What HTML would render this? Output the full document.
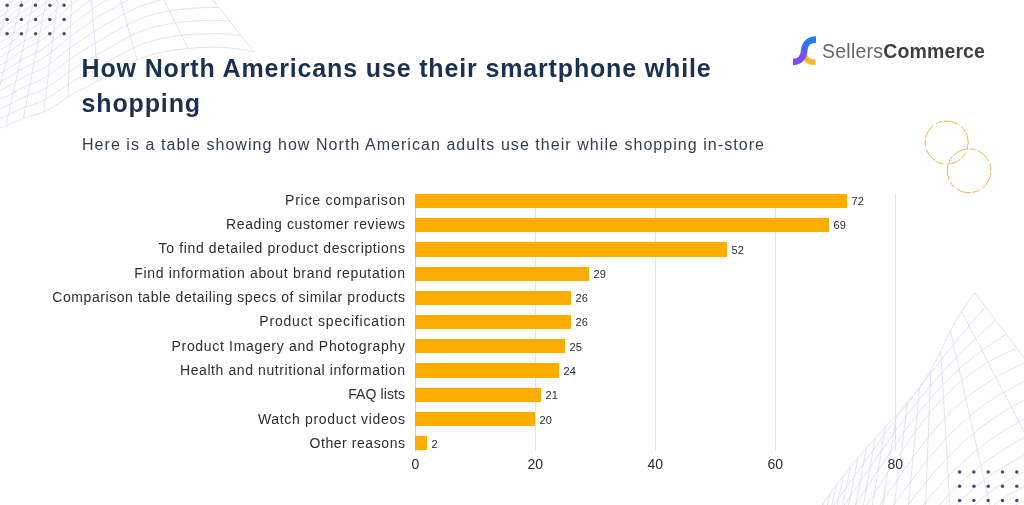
<!DOCTYPE html>
<html><head><meta charset="utf-8"><style>
html,body{margin:0;padding:0;background:#fff}
body{width:1024px;height:505px;position:relative;overflow:hidden;font-family:"Liberation Sans",sans-serif}
#wrap{position:absolute;left:0;top:0;width:1024px;height:505px;will-change:transform}
svg.bg{position:absolute;left:0;top:0}
.title{position:absolute;left:81.6px;top:51.2px;font-weight:bold;font-size:25px;line-height:35px;color:#1a3150;letter-spacing:0.85px;white-space:nowrap}
.sub{position:absolute;left:82px;top:134.5px;font-size:16px;line-height:20px;color:#2f3f52;letter-spacing:1.05px;white-space:nowrap}
.logo{position:absolute;left:822px;top:39.8px;font-size:19.5px;line-height:22px;white-space:nowrap}
.logo .a{color:#666;letter-spacing:0.25px} .logo .b{color:#404040;font-weight:bold;letter-spacing:0.1px}
.gl{position:absolute;top:194px;height:257px;width:1px;background:#e2e2e6}
.ax{position:absolute;top:456.4px;width:60px;text-align:center;font-size:14px;line-height:16px;color:#2d2d2d}
.bar{position:absolute;left:415.3px;height:14.2px;background:#fdac00}
.val{position:absolute;font-size:11px;line-height:14px;color:#2a2a2a;white-space:nowrap}
.lab{position:absolute;right:619px;font-size:14px;line-height:16px;color:#2d2d2d;white-space:nowrap;text-align:right}
</style></head><body><div id="wrap">
<svg class="bg" width="1024" height="505" viewBox="0 0 1024 505">
<g fill="none" stroke="#d9d9ef" stroke-width="0.8"><path d="M-60.0,150.0 -57.4,149.1 -54.7,148.2 -52.1,147.3 -49.4,146.4 -46.8,145.4 -44.2,144.4 -41.5,143.4 -38.9,142.4 -36.3,141.4 -33.6,140.4 -31.0,139.4 -28.3,138.4 -25.7,137.3 -23.1,136.3 -20.4,135.3 -17.8,134.3 -15.1,133.3 -12.5,132.3 -9.9,131.4 -7.2,130.4 -4.6,129.5 -1.9,128.6 0.7,127.8 3.3,126.9 6.0,126.0 8.6,125.0 11.2,123.8 13.9,122.7 16.5,121.4 19.2,120.3 21.8,119.2 24.4,118.2 27.1,117.3 29.7,116.5 32.4,115.8 35.0,115.0 37.6,114.2 40.3,113.3 42.9,112.3 45.5,111.1 48.2,109.7 50.8,108.2 53.5,106.6 56.1,104.9 58.7,103.1 61.4,101.3 64.0,99.6 66.7,97.9 69.3,96.2 71.9,94.6 74.6,93.1 77.2,91.7 79.8,90.3 82.5,88.9 85.1,87.6 87.8,86.2 90.4,84.9 93.0,83.6 95.7,82.2 98.3,80.8 101.0,79.4 103.6,77.9 106.2,76.5 108.9,75.0 111.5,73.4 114.2,71.9 116.8,70.4 119.4,68.9 122.1,67.5 124.7,66.0 127.3,64.6 130.0,63.3 132.6,62.0 135.3,60.8 137.9,59.6 140.5,58.5 143.2,57.5 145.8,56.6 148.5,55.7 151.1,54.9 153.7,54.1 156.4,53.4 159.0,52.8 161.6,52.2 164.3,51.7 166.9,51.2 169.6,50.7 172.2,50.3 174.8,49.9 177.5,49.6 180.1,49.3 182.8,49.0 185.4,48.7 188.0,48.5 190.7,48.3 193.3,48.1 195.9,47.9 198.6,47.7 201.2,47.6 203.9,47.5 206.5,47.4 209.1,47.3 211.8,47.3 214.4,47.3 217.1,47.3 219.7,47.4 222.3,47.5 225.0,47.7 227.6,47.8 230.3,48.0 232.9,48.3 235.5,48.6 238.2,48.9 240.8,49.3 243.4,49.8 246.1,50.3 248.7,50.8 251.4,51.4 254.0,52.0M-60.0,142.4 -57.4,141.5 -54.7,140.5 -52.1,139.5 -49.4,138.4 -46.8,137.4 -44.2,136.3 -41.5,135.2 -38.9,134.1 -36.3,133.0 -33.6,131.8 -31.0,130.7 -28.3,129.6 -25.7,128.5 -23.1,127.3 -20.4,126.2 -17.8,125.1 -15.1,124.0 -12.5,122.9 -9.9,121.9 -7.2,120.8 -4.6,119.8 -1.9,118.8 0.7,117.9 3.3,116.9 6.0,115.9 8.6,114.8 11.2,113.5 13.9,112.3 16.5,111.0 19.2,109.7 21.8,108.5 24.4,107.4 27.1,106.4 29.7,105.5 32.4,104.7 35.0,103.8 37.6,102.9 40.3,101.9 42.9,100.8 45.5,99.5 48.2,98.0 50.8,96.4 53.5,94.7 56.1,92.8 58.7,91.0 61.4,89.1 64.0,87.3 66.7,85.4 69.3,83.7 71.9,82.0 74.6,80.4 77.2,78.8 79.8,77.3 82.5,75.9 85.1,74.4 87.8,73.0 90.4,71.6 93.0,70.1 95.7,68.7 98.3,67.2 101.0,65.7 103.6,64.2 106.2,62.8 108.9,61.3 111.5,59.7 114.2,58.2 116.8,56.7 119.4,55.2 122.1,53.8 124.7,52.3 127.3,50.9 130.0,49.6 132.6,48.3 135.3,47.1 137.9,45.9 140.5,44.8 143.2,43.8 145.8,42.9 148.5,42.0 151.1,41.2 153.7,40.4 156.4,39.7 159.0,39.1 161.6,38.5 164.3,38.0 166.9,37.5 169.6,37.0 172.2,36.6 174.8,36.2 177.5,35.9 180.1,35.6 182.8,35.3 185.4,35.0 188.0,34.8 190.7,34.6 193.3,34.4 195.9,34.2 198.6,34.0 201.2,33.9 203.9,33.8 206.5,33.7 209.1,33.6 211.8,33.6 214.4,33.6 217.1,33.6 219.7,33.7 222.3,33.8 225.0,34.0 227.6,34.1 230.3,34.3 232.9,34.6 235.5,34.9 238.2,35.2 240.8,35.6 241.1,35.7M-60.0,135.1 -57.4,134.0 -54.7,133.0 -52.1,131.8 -49.4,130.7 -46.8,129.5 -44.2,128.4 -41.5,127.2 -38.9,126.0 -36.3,124.7 -33.6,123.5 -31.0,122.3 -28.3,121.1 -25.7,119.8 -23.1,118.6 -20.4,117.4 -17.8,116.2 -15.1,115.0 -12.5,113.8 -9.9,112.7 -7.2,111.6 -4.6,110.4 -1.9,109.4 0.7,108.3 3.3,107.3 6.0,106.1 8.6,104.9 11.2,103.6 13.9,102.2 16.5,100.8 19.2,99.4 21.8,98.1 24.4,96.9 27.1,95.9 29.7,94.9 32.4,93.9 35.0,93.0 37.6,92.0 40.3,90.9 42.9,89.6 45.5,88.2 48.2,86.6 50.8,84.9 53.5,83.1 56.1,81.2 58.7,79.2 61.4,77.3 64.0,75.3 66.7,73.4 69.3,71.5 71.9,69.8 74.6,68.1 77.2,66.4 79.8,64.8 82.5,63.3 85.1,61.7 87.8,60.2 90.4,58.7 93.0,57.1 95.7,55.6 98.3,54.0 101.0,52.4 103.6,51.0 106.2,49.5 108.9,48.0 111.5,46.5 114.2,45.0 116.8,43.4 119.4,42.0 122.1,40.5 124.7,39.1 127.3,37.7 130.0,36.3 132.6,35.0 135.3,33.8 137.9,32.6 140.5,31.6 143.2,30.5 145.8,29.6 148.5,28.7 151.1,27.9 153.7,27.2 156.4,26.5 159.0,25.8 161.6,25.2 164.3,24.7 166.9,24.2 169.6,23.8 172.2,23.3 174.8,23.0 177.5,22.6 180.1,22.3 182.8,22.0 185.4,21.8 188.0,21.5 190.7,21.3 193.3,21.1 195.9,20.9 198.6,20.7 201.2,20.6 203.9,20.5 206.5,20.4 209.1,20.4 211.8,20.3 214.4,20.3 217.1,20.4 219.7,20.4 222.3,20.5 225.0,20.7 227.6,20.9 229.6,21.0M-60.0,128.0 -57.4,126.8 -54.7,125.7 -52.1,124.4 -49.4,123.2 -46.8,122.0 -44.2,120.7 -41.5,119.4 -38.9,118.1 -36.3,116.8 -33.6,115.5 -31.0,114.1 -28.3,112.8 -25.7,111.5 -23.1,110.2 -20.4,108.9 -17.8,107.6 -15.1,106.3 -12.5,105.0 -9.9,103.8 -7.2,102.6 -4.6,101.3 -1.9,100.2 0.7,99.0 3.3,97.9 6.0,96.7 8.6,95.3 11.2,93.9 13.9,92.4 16.5,90.9 19.2,89.5 21.8,88.1 24.4,86.8 27.1,85.6 29.7,84.5 32.4,83.5 35.0,82.5 37.6,81.4 40.3,80.2 42.9,78.8 45.5,77.3 48.2,75.7 50.8,73.8 53.5,71.9 56.1,69.9 58.7,67.9 61.4,65.8 64.0,63.7 66.7,61.7 69.3,59.8 71.9,57.9 74.6,56.1 77.2,54.4 79.8,52.7 82.5,51.0 85.1,49.4 87.8,47.8 90.4,46.1 93.0,44.5 95.7,42.9 98.3,41.2 101.0,39.6 103.6,38.1 106.2,36.6 108.9,35.1 111.5,33.6 114.2,32.1 116.8,30.6 119.4,29.1 122.1,27.6 124.7,26.2 127.3,24.8 130.0,23.5 132.6,22.2 135.3,20.9 137.9,19.8 140.5,18.7 143.2,17.7 145.8,16.7 148.5,15.9 151.1,15.1 153.7,14.3 156.4,13.6 159.0,13.0 161.6,12.4 164.3,11.8 166.9,11.3 169.6,10.9 172.2,10.5 174.8,10.1 177.5,9.8 180.1,9.4 182.8,9.2 185.4,8.9 188.0,8.7 190.7,8.4 193.3,8.2 195.9,8.0 198.6,7.9 201.2,7.7 203.9,7.6 206.5,7.6 209.1,7.5 211.8,7.5 214.4,7.5 217.1,7.5 219.0,7.5M-60.0,121.1 -57.4,119.9 -54.7,118.6 -52.1,117.3 -49.4,116.0 -46.8,114.6 -44.2,113.3 -41.5,111.9 -38.9,110.5 -36.3,109.1 -33.6,107.7 -31.0,106.3 -28.3,104.9 -25.7,103.4 -23.1,102.0 -20.4,100.6 -17.8,99.3 -15.1,97.9 -12.5,96.5 -9.9,95.2 -7.2,93.9 -4.6,92.6 -1.9,91.3 0.7,90.0 3.3,88.8 6.0,87.5 8.6,86.1 11.2,84.6 13.9,83.0 16.5,81.4 19.2,79.8 21.8,78.3 24.4,77.0 27.1,75.7 29.7,74.6 32.4,73.4 35.0,72.3 37.6,71.1 40.3,69.8 42.9,68.4 45.5,66.8 48.2,65.0 50.8,63.1 53.5,61.1 56.1,59.0 58.7,56.9 61.4,54.7 64.0,52.6 66.7,50.5 69.3,48.4 71.9,46.5 74.6,44.6 77.2,42.7 79.8,40.9 82.5,39.2 85.1,37.5 87.8,35.8 90.4,34.0 93.0,32.3 95.7,30.6 98.3,28.8 101.0,27.1 103.6,25.7 106.2,24.2 108.9,22.7 111.5,21.2 114.2,19.7 116.8,18.1 119.4,16.7 122.1,15.2 124.7,13.8 127.3,12.4 130.0,11.0 132.6,9.7 135.3,8.5 137.9,7.3 140.5,6.3 143.2,5.2 145.8,4.3 148.5,3.4 151.1,2.6 153.7,1.9 156.4,1.2 159.0,0.5 161.6,-0.1 164.3,-0.6 166.9,-1.1 169.6,-1.5 172.2,-2.0 174.8,-2.3 177.5,-2.7 180.1,-3.0 182.8,-3.3 185.4,-3.5 188.0,-3.8 190.7,-4.0 193.3,-4.2 195.9,-4.4 198.6,-4.6 201.2,-4.7 203.9,-4.8 206.5,-4.9 209.1,-4.9M-60.0,114.5 -57.4,113.2 -54.7,111.8 -52.1,110.4 -49.4,109.0 -46.8,107.6 -44.2,106.1 -41.5,104.6 -38.9,103.1 -36.3,101.7 -33.6,100.2 -31.0,98.7 -28.3,97.2 -25.7,95.7 -23.1,94.2 -20.4,92.7 -17.8,91.2 -15.1,89.7 -12.5,88.3 -9.9,86.9 -7.2,85.4 -4.6,84.1 -1.9,82.7 0.7,81.4 3.3,80.0 6.0,78.6 8.6,77.1 11.2,75.5 13.9,73.9 16.5,72.2 19.2,70.5 21.8,69.0 24.4,67.5 27.1,66.2 29.7,64.9 32.4,63.7 35.0,62.4 37.6,61.2 40.3,59.8 42.9,58.3 45.5,56.6 48.2,54.7 50.8,52.7 53.5,50.6 56.1,48.5 58.7,46.2 61.4,44.0 64.0,41.8 66.7,39.6 69.3,37.4 71.9,35.4 74.6,33.4 77.2,31.5 79.8,29.6 82.5,27.8 85.1,25.9 87.8,24.1 90.4,22.3 93.0,20.5 95.7,18.7 98.3,16.8 101.0,15.1 103.6,13.6 106.2,12.2 108.9,10.7 111.5,9.1 114.2,7.6 116.8,6.1 119.4,4.6 122.1,3.2 124.7,1.7 127.3,0.3 130.0,-1.0 132.6,-2.3 135.3,-3.5 137.9,-4.7 140.5,-5.8 143.2,-6.8 145.8,-7.7 148.5,-8.6 151.1,-9.4 153.7,-10.2 156.4,-10.9 159.0,-11.5 161.6,-12.1 164.3,-12.6 166.9,-13.1 169.6,-13.6 172.2,-14.0 174.8,-14.4 177.5,-14.7 180.1,-15.0 182.8,-15.3 185.4,-15.6 188.0,-15.8 190.7,-16.0 193.3,-16.2 195.9,-16.4 198.6,-16.6 199.9,-16.6M-60.0,108.1 -57.4,106.7 -54.7,105.2 -52.1,103.7 -49.4,102.2 -46.8,100.7 -44.2,99.2 -41.5,97.6 -38.9,96.1 -36.3,94.5 -33.6,92.9 -31.0,91.3 -28.3,89.7 -25.7,88.1 -23.1,86.6 -20.4,85.0 -17.8,83.4 -15.1,81.9 -12.5,80.3 -9.9,78.8 -7.2,77.3 -4.6,75.8 -1.9,74.4 0.7,73.0 3.3,71.6 6.0,70.1 8.6,68.5 11.2,66.8 13.9,65.1 16.5,63.3 19.2,61.6 21.8,59.9 24.4,58.4 27.1,56.9 29.7,55.6 32.4,54.3 35.0,53.0 37.6,51.6 40.3,50.1 42.9,48.5 45.5,46.8 48.2,44.8 50.8,42.7 53.5,40.6 56.1,38.3 58.7,36.0 61.4,33.6 64.0,31.3 66.7,29.0 69.3,26.8 71.9,24.7 74.6,22.6 77.2,20.6 79.8,18.7 82.5,16.7 85.1,14.8 87.8,12.9 90.4,11.1 93.0,9.2 95.7,7.2 98.3,5.3 101.0,3.5 103.6,2.0 106.2,0.6 108.9,-0.9 111.5,-2.5 114.2,-4.0 116.8,-5.5 119.4,-7.0 122.1,-8.4 124.7,-9.9 127.3,-11.3 130.0,-12.6 132.6,-13.9 135.3,-15.1 137.9,-16.3 140.5,-17.4 143.2,-18.4 145.8,-19.3 148.5,-20.2 151.1,-21.0 153.7,-21.8 156.4,-22.5 159.0,-23.1 161.6,-23.7 164.3,-24.2 166.9,-24.7 169.6,-25.2 172.2,-25.6 174.8,-26.0 177.5,-26.3 180.1,-26.6 182.8,-26.9 185.4,-27.2 188.0,-27.4 190.7,-27.6 191.2,-27.7M-60.0,101.9 -57.4,100.4 -54.7,98.9 -52.1,97.3 -49.4,95.7 -46.8,94.1 -44.2,92.5 -41.5,90.9 -38.9,89.2 -36.3,87.6 -33.6,85.9 -31.0,84.2 -28.3,82.6 -25.7,80.9 -23.1,79.2 -20.4,77.6 -17.8,75.9 -15.1,74.3 -12.5,72.7 -9.9,71.1 -7.2,69.5 -4.6,67.9 -1.9,66.4 0.7,64.9 3.3,63.4 6.0,61.9 8.6,60.2 11.2,58.4 13.9,56.6 16.5,54.7 19.2,52.9 21.8,51.2 24.4,49.5 27.1,48.0 29.7,46.6 32.4,45.2 35.0,43.8 37.6,42.4 40.3,40.8 42.9,39.1 45.5,37.3 48.2,35.3 50.8,33.1 53.5,30.8 56.1,28.5 58.7,26.1 61.4,23.7 64.0,21.3 66.7,18.9 69.3,16.6 71.9,14.4 74.6,12.2 77.2,10.2 79.8,8.1 82.5,6.1 85.1,4.1 87.8,2.1 90.4,0.2 93.0,-1.8 95.7,-3.8 98.3,-5.8 101.0,-7.7 103.6,-9.1 106.2,-10.6 108.9,-12.1 111.5,-13.6 114.2,-15.1 116.8,-16.7 119.4,-18.1 122.1,-19.6 124.7,-21.0 127.3,-22.4 130.0,-23.8 132.6,-25.1 135.3,-26.3 137.9,-27.5 140.5,-28.5 143.2,-29.6 145.8,-30.5 148.5,-31.4 151.1,-32.2 153.7,-32.9 156.4,-33.6 159.0,-34.3 161.6,-34.9 164.3,-35.4 166.9,-35.9 169.6,-36.3 172.2,-36.8 174.8,-37.1 177.5,-37.5 180.1,-37.8 182.8,-38.1 183.0,-38.1M-60.0,96.0 -57.4,94.4 -54.7,92.8 -52.1,91.1 -49.4,89.5 -46.8,87.8 -44.2,86.1 -41.5,84.4 -38.9,82.7 -36.3,80.9 -33.6,79.2 -31.0,77.4 -28.3,75.7 -25.7,73.9 -23.1,72.2 -20.4,70.4 -17.8,68.7 -15.1,67.0 -12.5,65.3 -9.9,63.6 -7.2,62.0 -4.6,60.3 -1.9,58.7 0.7,57.1 3.3,55.6 6.0,53.9 8.6,52.2 11.2,50.3 13.9,48.4 16.5,46.5 19.2,44.6 21.8,42.8 24.4,41.1 27.1,39.5 29.7,38.0 32.4,36.5 35.0,35.0 37.6,33.5 40.3,31.9 42.9,30.1 45.5,28.2 48.2,26.1 50.8,23.8 53.5,21.5 56.1,19.1 58.7,16.6 61.4,14.1 64.0,11.6 66.7,9.1 69.3,6.8 71.9,4.5 74.6,2.2 77.2,0.1 79.8,-2.0 82.5,-4.1 85.1,-6.2 87.8,-8.2 90.4,-10.3 93.0,-12.4 95.7,-14.4 98.3,-16.5 101.0,-18.4 103.6,-19.9 106.2,-21.4 108.9,-22.9 111.5,-24.4 114.2,-25.9 116.8,-27.4 119.4,-28.9 122.1,-30.4 124.7,-31.8 127.3,-33.2 130.0,-34.5 132.6,-35.8 135.3,-37.1 137.9,-38.2 140.5,-39.3 143.2,-40.3 145.8,-41.3 148.5,-42.1 151.1,-42.9 153.7,-43.7 156.4,-44.4 159.0,-45.0 161.6,-45.6 164.3,-46.2 166.9,-46.7 169.6,-47.1 172.2,-47.5 174.8,-47.9 175.2,-47.9M-60.0,90.3 -57.4,88.6 -54.7,86.9 -52.1,85.2 -49.4,83.5 -46.8,81.7 -44.2,79.9 -41.5,78.1 -38.9,76.3 -36.3,74.5 -33.6,72.7 -31.0,70.9 -28.3,69.0 -25.7,67.2 -23.1,65.4 -20.4,63.6 -17.8,61.8 -15.1,60.0 -12.5,58.2 -9.9,56.5 -7.2,54.7 -4.6,53.0 -1.9,51.3 0.7,49.7 3.3,48.0 6.0,46.3 8.6,44.5 11.2,42.5 13.9,40.6 16.5,38.6 19.2,36.6 21.8,34.7 24.4,32.9 27.1,31.2 29.7,29.7 32.4,28.1 35.0,26.6 37.6,24.9 40.3,23.2 42.9,21.4 45.5,19.4 48.2,17.2 50.8,14.9 53.5,12.5 56.1,10.0 58.7,7.4 61.4,4.9 64.0,2.3 66.7,-0.2 69.3,-2.7 71.9,-5.1 74.6,-7.4 77.2,-9.6 79.8,-11.8 82.5,-14.0 85.1,-16.1 87.8,-18.2 90.4,-20.4 93.0,-22.5 95.7,-24.7 98.3,-26.8 101.0,-28.8 103.6,-30.2 106.2,-31.7 108.9,-33.2 111.5,-34.7 114.2,-36.2 116.8,-37.8 119.4,-39.2 122.1,-40.7 124.7,-42.1 127.3,-43.5 130.0,-44.9 132.6,-46.2 135.3,-47.4 137.9,-48.6 140.5,-49.6 143.2,-50.7 145.8,-51.6 148.5,-52.5 151.1,-53.3 153.7,-54.0 156.4,-54.7 159.0,-55.4 161.6,-56.0 164.3,-56.5 166.9,-57.0 167.9,-57.2M-60.0,84.8 -57.4,83.1 -54.7,81.3 -52.1,79.5 -49.4,77.7 -46.8,75.9 -44.2,74.0 -41.5,72.1 -38.9,70.3 -36.3,68.4 -33.6,66.5 -31.0,64.6 -28.3,62.7 -25.7,60.8 -23.1,58.9 -20.4,57.0 -17.8,55.1 -15.1,53.3 -12.5,51.4 -9.9,49.6 -7.2,47.8 -4.6,46.0 -1.9,44.2 0.7,42.5 3.3,40.8 6.0,39.0 8.6,37.1 11.2,35.1 13.9,33.0 16.5,31.0 19.2,28.9 21.8,26.9 24.4,25.1 27.1,23.3 29.7,21.7 32.4,20.1 35.0,18.4 37.6,16.8 40.3,15.0 42.9,13.1 45.5,11.0 48.2,8.7 50.8,6.4 53.5,3.9 56.1,1.3 58.7,-1.3 61.4,-4.0 64.0,-6.6 66.7,-9.2 69.3,-11.7 71.9,-14.2 74.6,-16.6 77.2,-18.9 79.8,-21.2 82.5,-23.4 85.1,-25.6 87.8,-27.8 90.4,-30.0 93.0,-32.2 95.7,-34.5 98.3,-36.7 101.0,-38.7 103.6,-40.2 106.2,-41.6 108.9,-43.1 111.5,-44.7 114.2,-46.2 116.8,-47.7 119.4,-49.2 122.1,-50.6 124.7,-52.1 127.3,-53.5 130.0,-54.8 132.6,-56.1 135.3,-57.3 137.9,-58.5 140.5,-59.6 143.2,-60.6 145.8,-61.5 148.5,-62.4 151.1,-63.2 153.7,-64.0 156.4,-64.7 159.0,-65.3 161.1,-65.8M-60.0,79.6 -57.4,77.8 -54.7,75.9 -52.1,74.1 -49.4,72.2 -46.8,70.3 -44.2,68.3 -41.5,66.4 -38.9,64.5 -36.3,62.5 -33.6,60.5 -31.0,58.6 -28.3,56.6 -25.7,54.6 -23.1,52.7 -20.4,50.7 -17.8,48.8 -15.1,46.8 -12.5,44.9 -9.9,43.0 -7.2,41.1 -4.6,39.3 -1.9,37.5 0.7,35.7 3.3,33.9 6.0,32.0 8.6,30.0 11.2,28.0 13.9,25.8 16.5,23.7 19.2,21.6 21.8,19.5 24.4,17.6 27.1,15.8 29.7,14.1 32.4,12.4 35.0,10.7 37.6,8.9 40.3,7.1 42.9,5.1 45.5,2.9 48.2,0.6 50.8,-1.8 53.5,-4.4 56.1,-7.1 58.7,-9.7 61.4,-12.5 64.0,-15.2 66.7,-17.8 69.3,-20.4 71.9,-22.9 74.6,-25.4 77.2,-27.8 79.8,-30.1 82.5,-32.4 85.1,-34.7 87.8,-37.0 90.4,-39.3 93.0,-41.5 95.7,-43.8 98.3,-46.2 101.0,-48.2 103.6,-49.7 106.2,-51.1 108.9,-52.6 111.5,-54.2 114.2,-55.7 116.8,-57.2 119.4,-58.7 122.1,-60.1 124.7,-61.6 127.3,-63.0 130.0,-64.3 132.6,-65.6 135.3,-66.8 137.9,-68.0 140.5,-69.1 143.2,-70.1 145.8,-71.0 148.5,-71.9 151.1,-72.7 153.7,-73.5 154.8,-73.8M-60.0,74.6 -57.4,72.7 -54.7,70.8 -52.1,68.8 -49.4,66.9 -46.8,64.9 -44.2,62.9 -41.5,60.9 -38.9,58.9 -36.3,56.9 -33.6,54.9 -31.0,52.8 -28.3,50.8 -25.7,48.8 -23.1,46.7 -20.4,44.7 -17.8,42.7 -15.1,40.7 -12.5,38.7 -9.9,36.7 -7.2,34.8 -4.6,32.9 -1.9,31.0 0.7,29.1 3.3,27.2 6.0,25.3 8.6,23.3 11.2,21.1 13.9,18.9 16.5,16.7 19.2,14.5 21.8,12.4 24.4,10.4 27.1,8.6 29.7,6.8 32.4,5.0 35.0,3.2 37.6,1.4 40.3,-0.5 42.9,-2.5 45.5,-4.8 48.2,-7.1 50.8,-9.7 53.5,-12.3 56.1,-15.0 58.7,-17.8 61.4,-20.6 64.0,-23.3 66.7,-26.1 69.3,-28.7 71.9,-31.3 74.6,-33.8 77.2,-36.3 79.8,-38.7 82.5,-41.1 85.1,-43.4 87.8,-45.8 90.4,-48.1 93.0,-50.4 95.7,-52.8 98.3,-55.2 101.0,-57.3 103.6,-58.7 106.2,-60.2 108.9,-61.7 111.5,-63.2 114.2,-64.7 116.8,-66.3 119.4,-67.7 122.1,-69.2 124.7,-70.6 127.3,-72.0 130.0,-73.4 132.6,-74.7 135.3,-75.9 137.9,-77.1 140.5,-78.1 143.2,-79.2 145.8,-80.1 148.5,-81.0 149.0,-81.2M-60.0,69.8 -57.4,67.8 -54.7,65.9 -52.1,63.9 -49.4,61.9 -46.8,59.8 -44.2,57.8 -41.5,55.7 -38.9,53.6 -36.3,51.5 -33.6,49.4 -31.0,47.3 -28.3,45.2 -25.7,43.1 -23.1,41.0 -20.4,39.0 -17.8,36.9 -15.1,34.8 -12.5,32.8 -9.9,30.7 -7.2,28.7 -4.6,26.7 -1.9,24.8 0.7,22.9 3.3,20.9 6.0,18.9 8.6,16.8 11.2,14.6 13.9,12.4 16.5,10.1 19.2,7.8 21.8,5.7 24.4,3.6 27.1,1.7 29.7,-0.2 32.4,-2.0 35.0,-3.8 37.6,-5.7 40.3,-7.7 42.9,-9.8 45.5,-12.1 48.2,-14.5 50.8,-17.1 53.5,-19.8 56.1,-22.6 58.7,-25.4 61.4,-28.3 64.0,-31.1 66.7,-33.9 69.3,-36.6 71.9,-39.3 74.6,-41.9 77.2,-44.4 79.8,-46.9 82.5,-49.3 85.1,-51.7 87.8,-54.1 90.4,-56.5 93.0,-58.9 95.7,-61.4 98.3,-63.8 101.0,-65.9 103.6,-67.4 106.2,-68.9 108.9,-70.4 111.5,-71.9 114.2,-73.4 116.8,-74.9 119.4,-76.4 122.1,-77.9 124.7,-79.3 127.3,-80.7 130.0,-82.0 132.6,-83.3 135.3,-84.6 137.9,-85.7 140.5,-86.8 143.2,-87.8 143.6,-88.0M-60.0,65.2 -57.4,63.2 -54.7,61.2 -52.1,59.1 -49.4,57.1 -46.8,55.0 -44.2,52.9 -41.5,50.7 -38.9,48.6 -36.3,46.4 -33.6,44.3 -31.0,42.1 -28.3,40.0 -25.7,37.8 -23.1,35.6 -20.4,33.5 -17.8,31.4 -15.1,29.2 -12.5,27.1 -9.9,25.0 -7.2,23.0 -4.6,20.9 -1.9,18.9 0.7,16.9 3.3,14.9 6.0,12.9 8.6,10.7 11.2,8.4 13.9,6.1 16.5,3.8 19.2,1.5 21.8,-0.8 24.4,-2.9 27.1,-4.9 29.7,-6.8 32.4,-8.7 35.0,-10.6 37.6,-12.5 40.3,-14.6 42.9,-16.7 45.5,-19.1 48.2,-21.6 50.8,-24.2 53.5,-27.0 56.1,-29.8 58.7,-32.7 61.4,-35.6 64.0,-38.5 66.7,-41.4 69.3,-44.2 71.9,-46.9 74.6,-49.5 77.2,-52.1 79.8,-54.6 82.5,-57.1 85.1,-59.6 87.8,-62.1 90.4,-64.5 93.0,-67.0 95.7,-69.5 98.3,-72.0 101.0,-74.2 103.6,-75.6 106.2,-77.1 108.9,-78.6 111.5,-80.1 114.2,-81.6 116.8,-83.2 119.4,-84.6 122.1,-86.1 124.7,-87.5 127.3,-88.9 130.0,-90.3 132.6,-91.6 135.3,-92.8 137.9,-94.0 138.7,-94.3M-60.0,60.9 -57.4,58.8 -54.7,56.8 -52.1,54.7 -49.4,52.5 -46.8,50.4 -44.2,48.2 -41.5,46.0 -38.9,43.8 -36.3,41.6 -33.6,39.4 -31.0,37.2 -28.3,35.0 -25.7,32.7 -23.1,30.5 -20.4,28.3 -17.8,26.1 -15.1,23.9 -12.5,21.8 -9.9,19.6 -7.2,17.5 -4.6,15.4 -1.9,13.3 0.7,11.3 3.3,9.2 6.0,7.1 8.6,4.9 11.2,2.6 13.9,0.2 16.5,-2.2 19.2,-4.6 21.8,-6.9 24.4,-9.1 27.1,-11.1 29.7,-13.1 32.4,-15.0 35.0,-17.0 37.6,-19.0 40.3,-21.1 42.9,-23.3 45.5,-25.7 48.2,-28.3 50.8,-31.0 53.5,-33.8 56.1,-36.7 58.7,-39.6 61.4,-42.6 64.0,-45.6 66.7,-48.5 69.3,-51.3 71.9,-54.1 74.6,-56.8 77.2,-59.4 79.8,-62.0 82.5,-64.6 85.1,-67.1 87.8,-69.6 90.4,-72.2 93.0,-74.7 95.7,-77.2 98.3,-79.8 101.0,-82.0 103.6,-83.5 106.2,-84.9 108.9,-86.4 111.5,-88.0 114.2,-89.5 116.8,-91.0 119.4,-92.5 122.1,-93.9 124.7,-95.4 127.3,-96.8 130.0,-98.1 132.6,-99.4 134.1,-100.1M-75.0,154.2 L5.0,-30.0M-48.0,145.9 L9.9,-30.0M-30.0,139.0 L18.6,-30.0M-12.0,132.1 L29.6,-30.0M6.0,126.0 L40.0,-30.0M23.3,118.6 L52.1,-30.0M43.6,112.0 L61.7,-30.0M68.0,97.0 L72.5,-30.0M98.0,81.0 L89.0,-30.0M137.0,60.0 L111.9,-30.0M188.0,48.5 L149.2,-30.0M254.0,52.0 L189.3,-30.0"/><path d="M975.0,293.0 969.9,299.3 965.3,305.7 961.1,312.0 957.3,318.3 953.8,324.7 950.5,331.0 947.3,337.3 944.3,343.7 941.2,350.0 938.1,356.3 934.9,362.7 931.5,369.0 927.8,375.3 923.7,381.7 919.3,388.0 914.4,394.3 909.1,400.7 903.6,407.0 897.9,413.3 892.1,419.7 886.3,426.0 880.5,432.3 874.8,438.7 869.2,445.0 863.7,451.3 858.3,457.7 853.0,464.0 847.9,470.3 842.9,476.7 838.0,483.0 833.3,489.3 828.7,495.7 824.2,502.0 819.8,508.3 815.6,514.7 811.5,521.0 807.6,527.3 803.7,533.7 800.0,540.0M975,293 L1085,438M961.5,311.3 L1070.1,520.0M950.5,331.0 L993.2,520.0M940.7,351.0 L950.9,520.0M930.9,370.0 L924.9,520.0M919.6,387.5 L907.0,520.0M907.6,402.4 L892.3,520.0M896.3,415.0 L880.6,520.0M885.3,427.0 L870.0,520.0M875.4,438.0 L860.6,520.0M866.6,448.0 L852.9,520.0M858.0,458.0 L845.6,520.0M850.6,467.0 L839.4,520.0M843.4,476.0 L833.7,520.0M836.5,485.0 L828.5,520.0M829.9,494.0 L823.6,520.0M823.5,503.0 L819.2,520.0M817.4,512.0 L815.3,520.0M811.5,521.0 L811.8,520.0M985.4,306.8 C915.5,387.2 878.4,443.8 815.8,530.0M995.8,320.6 C917.4,386.4 886.5,447.2 826.3,530.0M1006.2,334.4 C922.1,384.9 895.3,450.6 837.6,530.0M1016.6,348.2 C929.6,383.3 904.7,454.1 849.5,530.0M1027.0,362.0 C944.1,395.5 914.7,457.6 862.2,530.0M1037.4,375.8 C958.6,407.6 925.5,461.3 875.5,530.0M1047.8,389.6 C973.3,419.7 936.8,465.0 889.6,530.0M1058.2,403.4 C988.0,431.8 948.8,468.7 904.3,530.0M1068.6,417.2 C1002.8,443.8 961.5,472.6 919.8,530.0M1079.0,431.0 C1017.7,455.8 974.8,476.5 935.9,530.0M1089.4,444.8 C1032.7,467.7 988.7,480.5 952.8,530.0M1099.8,458.6 C1047.7,479.6 1003.3,484.5 970.3,530.0M1110.2,472.4 C1062.8,491.6 1018.6,488.6 988.6,530.0"/></g>
<g fill="#454d80"><circle cx="7.10" cy="5.20" r="1.75"/><circle cx="959.60" cy="472.00" r="1.75"/><circle cx="21.35" cy="5.20" r="1.75"/><circle cx="973.90" cy="472.00" r="1.75"/><circle cx="35.60" cy="5.20" r="1.75"/><circle cx="988.20" cy="472.00" r="1.75"/><circle cx="49.85" cy="5.20" r="1.75"/><circle cx="1002.50" cy="472.00" r="1.75"/><circle cx="64.10" cy="5.20" r="1.75"/><circle cx="1016.80" cy="472.00" r="1.75"/><circle cx="7.10" cy="19.45" r="1.75"/><circle cx="959.60" cy="486.30" r="1.75"/><circle cx="21.35" cy="19.45" r="1.75"/><circle cx="973.90" cy="486.30" r="1.75"/><circle cx="35.60" cy="19.45" r="1.75"/><circle cx="988.20" cy="486.30" r="1.75"/><circle cx="49.85" cy="19.45" r="1.75"/><circle cx="1002.50" cy="486.30" r="1.75"/><circle cx="64.10" cy="19.45" r="1.75"/><circle cx="1016.80" cy="486.30" r="1.75"/><circle cx="7.10" cy="33.70" r="1.75"/><circle cx="959.60" cy="500.60" r="1.75"/><circle cx="21.35" cy="33.70" r="1.75"/><circle cx="973.90" cy="500.60" r="1.75"/><circle cx="35.60" cy="33.70" r="1.75"/><circle cx="988.20" cy="500.60" r="1.75"/><circle cx="49.85" cy="33.70" r="1.75"/><circle cx="1002.50" cy="500.60" r="1.75"/><circle cx="64.10" cy="33.70" r="1.75"/><circle cx="1016.80" cy="500.60" r="1.75"/></g>
<g fill="none" stroke="#e4b64e" stroke-width="0.9" stroke-dasharray="15 3 7 1.5"><circle cx="946.7" cy="142.5" r="21.6" transform="rotate(-20 946.8 142.5)"/><circle cx="969" cy="170.8" r="21.9" transform="rotate(15 969 170.8)"/></g>
</svg>
<div class="gl" style="left:414.8px;background:#cfcfcf"></div><div class="ax" style="left:385.3px">0</div><div class="gl" style="left:534.5px"></div><div class="ax" style="left:505.3px">20</div><div class="gl" style="left:654.5px"></div><div class="ax" style="left:625.3px">40</div><div class="gl" style="left:774.5px"></div><div class="ax" style="left:745.3px">60</div><div class="gl" style="left:894.5px"></div><div class="ax" style="left:865.3px">80</div>
<div class="bar" style="top:194.00px;width:432.0px"></div><div class="val" style="top:193.90px;left:851.6px">72</div><div class="lab" style="top:191.90px;letter-spacing:0.787px;margin-right:-0.787px">Price comparison</div><div class="bar" style="top:218.20px;width:414.0px"></div><div class="val" style="top:218.20px;left:833.6px">69</div><div class="lab" style="top:216.19px;letter-spacing:0.609px;margin-right:-0.609px">Reading customer reviews</div><div class="bar" style="top:242.40px;width:312.0px"></div><div class="val" style="top:242.50px;left:731.6px">52</div><div class="lab" style="top:240.48px;letter-spacing:0.639px;margin-right:-0.639px">To find detailed product descriptions</div><div class="bar" style="top:266.60px;width:174.0px"></div><div class="val" style="top:266.80px;left:593.6px">29</div><div class="lab" style="top:264.77px;letter-spacing:0.674px;margin-right:-0.674px">Find information about brand reputation</div><div class="bar" style="top:290.80px;width:156.0px"></div><div class="val" style="top:291.10px;left:575.6px">26</div><div class="lab" style="top:289.06px;letter-spacing:0.569px;margin-right:-0.569px">Comparison table detailing specs of similar products</div><div class="bar" style="top:315.00px;width:156.0px"></div><div class="val" style="top:315.40px;left:575.6px">26</div><div class="lab" style="top:313.35px;letter-spacing:0.830px;margin-right:-0.830px">Product specification</div><div class="bar" style="top:339.20px;width:150.0px"></div><div class="val" style="top:339.70px;left:569.6px">25</div><div class="lab" style="top:337.64px;letter-spacing:0.673px;margin-right:-0.673px">Product Imagery and Photography</div><div class="bar" style="top:363.40px;width:144.0px"></div><div class="val" style="top:364.00px;left:563.6px">24</div><div class="lab" style="top:361.93px;letter-spacing:0.594px;margin-right:-0.594px">Health and nutritional information</div><div class="bar" style="top:387.60px;width:126.0px"></div><div class="val" style="top:388.30px;left:545.6px">21</div><div class="lab" style="top:386.22px;letter-spacing:0.100px;margin-right:-0.100px">FAQ lists</div><div class="bar" style="top:411.80px;width:120.0px"></div><div class="val" style="top:412.60px;left:539.6px">20</div><div class="lab" style="top:410.51px;letter-spacing:0.684px;margin-right:-0.684px">Watch product videos</div><div class="bar" style="top:436.00px;width:12.0px"></div><div class="val" style="top:436.90px;left:431.6px">2</div><div class="lab" style="top:434.80px;letter-spacing:0.567px;margin-right:-0.567px">Other reasons</div>
<div class="title">How North Americans use their smartphone while<br>shopping</div>
<div class="sub">Here is a table showing how North American adults use their while shopping in-store</div>
<svg style="position:absolute;left:780px;top:30px" width="40" height="40" viewBox="780 30 40 40">
<defs><linearGradient id="lg" gradientUnits="userSpaceOnUse" x1="0" y1="40" x2="0" y2="58"><stop offset="0" stop-color="#1f7ef5"/><stop offset="1" stop-color="#7c4deb"/></linearGradient></defs>
<path d="M804.5,55 C805.5,60 809,62.3 815.5,62.3" fill="none" stroke="#f6b330" stroke-width="5.5"/>
<path d="M816,39.4 C809,39.4 804.5,44 804.2,50.5 C803.8,57 800,62 793,62" fill="none" stroke="url(#lg)" stroke-width="6.5"/>
</svg>
<div class="logo"><span class="a">Sellers</span><span class="b">Commerce</span></div>
</div></body></html>
